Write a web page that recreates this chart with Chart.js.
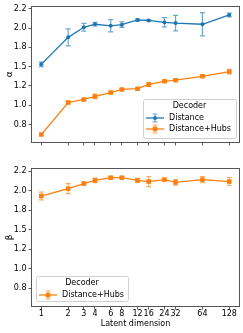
<!DOCTYPE html>
<html>
<head>
<meta charset="utf-8">
<script src="https://cdn.jsdelivr.net/npm/chart.js@4.4.0/dist/chart.umd.min.js"></script>
<style>
  html, body { margin: 0; padding: 0; background: #fff; }
  #wrap { position: relative; width: 243px; height: 333px; }
  canvas { position: absolute; left: 0; }
  #alphaChart { top: 0; }
  #betaChart { top: 160px; }
</style>
</head>
<body>
<div id="wrap">
  <canvas id="alphaChart" width="243" height="160"></canvas>
  <canvas id="betaChart" width="243" height="173"></canvas>
</div>
<script>
// Data
const latentDims = [1, 2, 3, 4, 6, 8, 12, 16, 24, 32, 64, 128];
const xTickLabels = ["1", "2", "3", "4", "6", "8", "12", "16", "24", "32", "64", "128"];
const yTickValues = [0.75, 1.0, 1.25, 1.5, 1.75, 2.0, 2.25];
const yTickLabels = ["0.8", "1.0", "1.2", "1.5", "1.8", "2.0", "2.2"];

const alphaDistance    = [1.53, 1.88, 2.01, 2.05, 2.03, 2.045, 2.105, 2.10, 2.075, 2.065, 2.05, 2.17];
const alphaDistanceErr = [0.03, 0.11, 0.05, 0.023, 0.08, 0.035, 0.015, 0.01, 0.06, 0.10, 0.15, 0.025];
const alphaHubs        = [0.62, 1.035, 1.075, 1.115, 1.165, 1.205, 1.215, 1.27, 1.31, 1.325, 1.375, 1.435];
const alphaHubsErr     = [0.01, 0.015, 0.01, 0.03, 0.01, 0.012, 0.012, 0.025, 0.01, 0.01, 0.012, 0.03];
const betaHubs         = [1.93, 2.025, 2.09, 2.13, 2.165, 2.165, 2.13, 2.115, 2.14, 2.105, 2.14, 2.115];
const betaHubsErr      = [0.05, 0.065, 0.02, 0.03, 0.015, 0.01, 0.025, 0.065, 0.015, 0.035, 0.04, 0.05];

const BLUE = "#1f77b4";
const ORANGE = "#ff7f0e";
const FONT = { family: "'DejaVu Sans', sans-serif", size: 8 };

function toPoints(values) {
  return latentDims.map((d, i) => ({ x: d, y: values[i] }));
}

function hexAlpha(hex, a) {
  const n = parseInt(hex.slice(1), 16);
  return `rgba(${(n >> 16) & 255},${(n >> 8) & 255},${n & 255},${a})`;
}

/* -------------------- Plugins -------------------- */
// vertical error bars with caps
const errorBars = {
  id: "errorBars",
  afterDatasetsDraw(chart) {
    const ctx = chart.ctx;
    const yScale = chart.scales.y;
    ctx.save();
    chart.data.datasets.forEach((ds, i) => {
      if (!ds.errors) return;
      const meta = chart.getDatasetMeta(i);
      ctx.strokeStyle = hexAlpha(ds.borderColor, 0.65);
      ctx.lineWidth = 1.2;
      meta.data.forEach((pt, j) => {
        const v = ds.data[j].y, e = ds.errors[j];
        const top = yScale.getPixelForValue(v + e);
        const bot = yScale.getPixelForValue(v - e);
        ctx.beginPath();
        ctx.moveTo(pt.x, top); ctx.lineTo(pt.x, bot);
        ctx.moveTo(pt.x - 2.5, top); ctx.lineTo(pt.x + 2.5, top);
        ctx.moveTo(pt.x - 2.5, bot); ctx.lineTo(pt.x + 2.5, bot);
        ctx.stroke();
      });
    });
    ctx.restore();
  }
};

// matplotlib-like frame around the axes
const frame = {
  id: "frame",
  afterDraw(chart) {
    const a = chart.chartArea, ctx = chart.ctx;
    ctx.save();
    ctx.strokeStyle = "#555";
    ctx.lineWidth = 1;
    ctx.strokeRect(Math.round(a.left) - 0.5, Math.round(a.top) - 0.5,
      Math.round(a.right - a.left) + 1, Math.round(a.bottom - a.top) + 1);
    ctx.restore();
  }
};

// legend box with title, drawn inside the axes
const boxLegend = {
  id: "boxLegend",
  afterDraw(chart, args, o) {
    if (!o || !o.w) return;
    const ctx = chart.ctx;
    ctx.save();
    ctx.beginPath();
    ctx.roundRect(o.x + 0.5, o.y + 0.5, o.w, o.h, 2);
    ctx.fillStyle = "rgba(255,255,255,0.8)";
    ctx.fill();
    ctx.strokeStyle = "#d0d0d0";
    ctx.lineWidth = 1;
    ctx.stroke();

    ctx.font = `${FONT.size}px ${FONT.family}`;
    ctx.fillStyle = "#000";
    ctx.textBaseline = "middle";
    ctx.textAlign = "center";
    ctx.fillText(o.title, o.x + o.w / 2, o.titleY);

    ctx.textAlign = "left";
    chart.data.datasets.forEach((ds, i) => {
      const y = o.rowY[i];
      const cx = (o.handleX0 + o.handleX1) / 2;
      ctx.strokeStyle = ds.borderColor;
      ctx.lineWidth = 1.3;
      ctx.beginPath();
      ctx.moveTo(o.handleX0, y); ctx.lineTo(o.handleX1, y);
      ctx.stroke();
      ctx.strokeStyle = hexAlpha(ds.borderColor, 0.65);
      ctx.lineWidth = 1.2;
      ctx.beginPath();
      ctx.moveTo(cx, y - 4); ctx.lineTo(cx, y + 4);
      ctx.moveTo(cx - 2.5, y - 4); ctx.lineTo(cx + 2.5, y - 4);
      ctx.moveTo(cx - 2.5, y + 4); ctx.lineTo(cx + 2.5, y + 4);
      ctx.stroke();
      ctx.fillStyle = ds.backgroundColor;
      ctx.strokeStyle = ds.borderColor;
      Chart.helpers.drawPoint(ctx, { pointStyle: ds.pointStyle, radius: ds.pointRadius, borderWidth: 0, rotation: 0 }, cx, y);
      ctx.fillStyle = "#000";
      ctx.fillText(ds.label, o.textX, y);
    });
    ctx.restore();
  }
};

/* -------------------- Charts -------------------- */
function makeDataset(label, values, errors, color, style) {
  return {
    label,
    data: toPoints(values),
    errors,
    borderColor: color,
    backgroundColor: color,
    borderWidth: 1.3,
    pointStyle: style,
    pointRadius: style === "rect" ? 3.2 : 2,
    pointBorderWidth: 0,
    tension: 0
  };
}

function makeScales(showX, yTitle, xHeight) {
  return {
    x: {
      type: "logarithmic",
      min: 0.787,
      max: 164.5,
      afterBuildTicks: s => { s.ticks = latentDims.map(v => ({ value: v })); },
      afterFit: s => { s.height = xHeight; },
      ticks: {
        display: showX, autoSkip: false, maxRotation: 0, minRotation: 0,
        padding: 0, font: FONT, color: "#000",
        callback: (v, i) => xTickLabels[i]
      },
      grid: { drawOnChartArea: false, drawTicks: true, tickLength: 3.5, color: "#333", lineWidth: 0.8 },
      border: { display: false },
      title: { display: showX, text: "Latent dimension", font: FONT, color: "#000", padding: { top: 0, bottom: 4 } }
    },
    y: {
      type: "linear",
      min: 0.524,
      max: 2.276,
      afterBuildTicks: s => { s.ticks = yTickValues.map(v => ({ value: v })); },
      afterFit: s => { s.width = 32; },
      ticks: { padding: 2, font: FONT, color: "#000", callback: (v, i) => yTickLabels[i] },
      grid: { drawOnChartArea: false, drawTicks: true, tickLength: 3.5, color: "#333", lineWidth: 0.8 },
      border: { display: false },
      title: { display: true, text: yTitle, font: { family: FONT.family, size: 9 }, color: "#000", padding: { top: 4, bottom: 0 } }
    }
  };
}

const alphaChart = new Chart(document.getElementById("alphaChart"), {
  type: "line",
  data: {
    datasets: [
      makeDataset("Distance", alphaDistance, alphaDistanceErr, BLUE, "circle"),
      makeDataset("Distance+Hubs", alphaHubs, alphaHubsErr, ORANGE, "rect")
    ]
  },
  options: {
    responsive: false,
    animation: false,
    layout: { padding: { top: 5, right: 4, left: 0, bottom: 0 } },
    scales: makeScales(false, "α", 18),
    plugins: {
      legend: { display: false },
      tooltip: { enabled: false },
      boxLegend: { x: 143, y: 99, w: 93, h: 39, title: "Decoder", titleY: 106, rowY: [118, 129], handleX0: 146, handleX1: 164, textX: 169 }
    }
  },
  plugins: [errorBars, frame, boxLegend]
});

const betaChart = new Chart(document.getElementById("betaChart"), {
  type: "line",
  data: {
    datasets: [
      makeDataset("Distance+Hubs", betaHubs, betaHubsErr, ORANGE, "rect")
    ]
  },
  options: {
    responsive: false,
    animation: false,
    layout: { padding: { top: 9, right: 4, left: 0, bottom: 0 } },
    scales: makeScales(true, "β", 27),
    plugins: {
      legend: { display: false },
      tooltip: { enabled: false },
      boxLegend: { x: 36, y: 116, w: 92, h: 25, title: "Decoder", titleY: 123, rowY: [135], handleX0: 39, handleX1: 57, textX: 62 }
    }
  },
  plugins: [errorBars, frame, boxLegend]
});
</script>
</body>
</html>
